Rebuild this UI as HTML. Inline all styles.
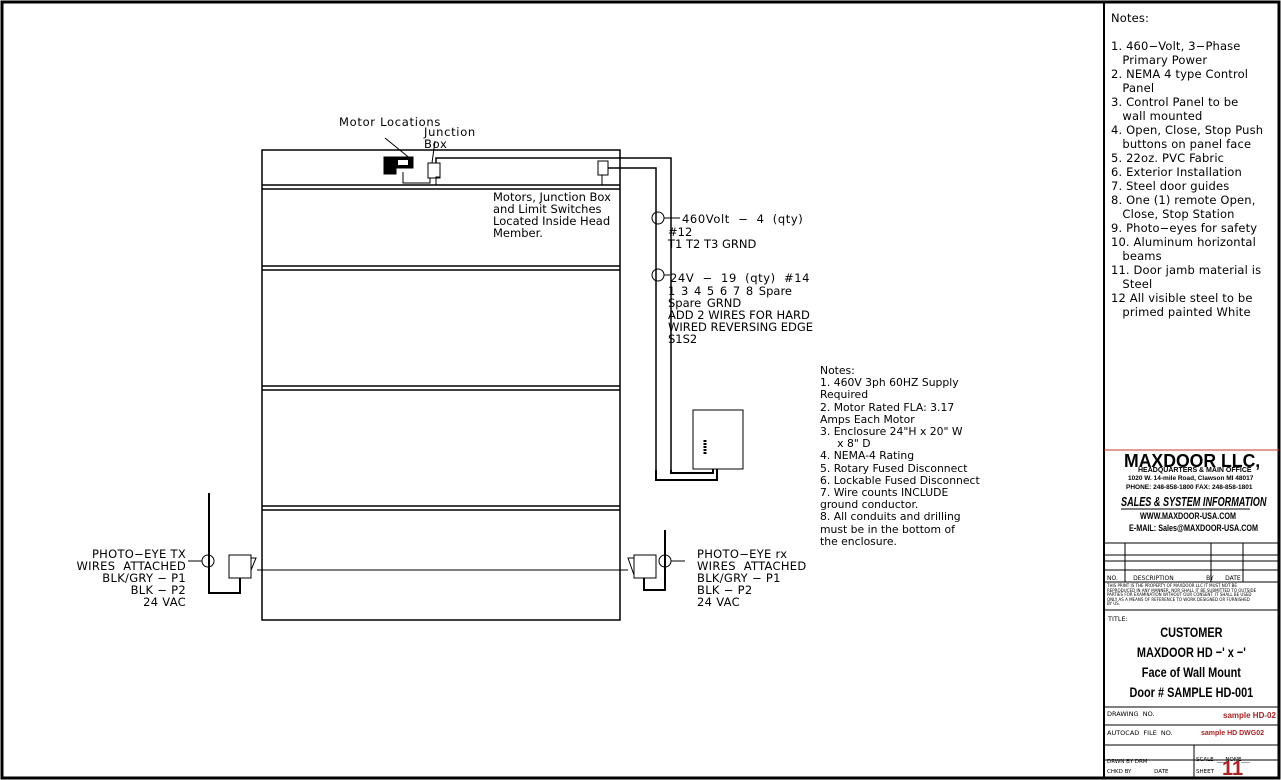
<!DOCTYPE html>
<html><head><style>
body{margin:0;background:#fff;width:1281px;height:780px;overflow:hidden;position:relative;font-family:"DejaVu Sans","Liberation Sans",sans-serif;}
.t{position:absolute;font-size:11.5px;line-height:12px;color:#000;white-space:pre;}
.b{font-family:"Liberation Sans",sans-serif;font-weight:bold;position:absolute;white-space:nowrap;transform-origin:left top;line-height:1;}
</style></head><body>
<svg width="1281" height="780" style="position:absolute;left:0;top:0" fill="none" stroke="#000">
<rect x="2" y="2" width="1277" height="776" stroke-width="3"/>
<line x1="1104" y1="2" x2="1104" y2="778" stroke-width="2"/>
<g stroke-width="1.5">
<rect x="262" y="150" width="358" height="470"/>
<line x1="262" y1="185" x2="620" y2="185"/><line x1="262" y1="189" x2="620" y2="189"/>
<line x1="262" y1="266" x2="620" y2="266"/><line x1="262" y1="270" x2="620" y2="270"/>
<line x1="262" y1="386" x2="620" y2="386"/><line x1="262" y1="390" x2="620" y2="390"/>
<line x1="262" y1="506" x2="620" y2="506"/><line x1="262" y1="510" x2="620" y2="510"/>
</g>
<g stroke-width="1">
<line x1="257" y1="570" x2="628" y2="570"/>
<rect x="428" y="163" width="12" height="15"/>
<rect x="598" y="161" width="10" height="14"/>
<g stroke-width="1.5">
<polyline points="436,163 436,158 671,158 671,470"/>
<polyline points="608,168 656,168 656,480"/>
</g>
<polyline points="440,177 436,177 436,185 602,185 602,175"/>
<polyline points="403,172 403,183 430,183 430,178"/>
<line x1="385" y1="138" x2="412" y2="160"/><line x1="435" y1="141" x2="432" y2="163"/>
<rect x="693" y="410" width="50" height="59"/>
<polyline points="671,470 671,473 713,473 713,469" stroke-width="2"/>
<polyline points="656,470 656,480 717,480 717,469" stroke-width="2"/>
<line x1="705" y1="440" x2="705" y2="455" stroke-width="3" stroke-dasharray="2,1"/>
<circle cx="658" cy="218" r="6"/><line x1="664" y1="218" x2="680" y2="218"/>
<circle cx="658" cy="275" r="6"/><line x1="664" y1="275" x2="670" y2="275"/>
<polyline points="209,493 209,593 240,593 240,578" stroke-width="2"/>
<rect x="229" y="555" width="22" height="23"/>
<polyline points="251,558 256,558 251,570 251,558"/>
<circle cx="208" cy="561" r="6"/><line x1="188" y1="561" x2="202" y2="561"/>
<polyline points="665,530 665,590 644,590 644,578" stroke-width="2"/>
<rect x="634" y="555" width="22" height="23"/>
<polyline points="634,558 628,558 634,575"/>
<circle cx="665" cy="561" r="6"/><line x1="671" y1="561" x2="685" y2="561"/>
<line x1="1104" y1="450" x2="1279" y2="450" stroke="#c33"/>
<line x1="1104" y1="543" x2="1279" y2="543"/>
<line x1="1104" y1="555" x2="1279" y2="555"/>
<line x1="1104" y1="561" x2="1279" y2="561"/>
<line x1="1104" y1="570" x2="1279" y2="570"/>
<line x1="1104" y1="582" x2="1279" y2="582"/>
<line x1="1104" y1="610" x2="1279" y2="610"/>
<line x1="1125" y1="543" x2="1125" y2="582"/>
<line x1="1211" y1="543" x2="1211" y2="582"/>
<line x1="1243" y1="543" x2="1243" y2="582"/>
<line x1="1104" y1="707" x2="1279" y2="707"/>
<line x1="1104" y1="725" x2="1279" y2="725"/>
<line x1="1104" y1="745" x2="1279" y2="745"/>
<line x1="1104" y1="760" x2="1279" y2="760"/>
<line x1="1194" y1="745" x2="1194" y2="778"/>
<line x1="1121" y1="509" x2="1250" y2="509"/>
</g>
<rect x="384" y="157" width="12" height="17" fill="#000"/>
<rect x="393" y="157" width="20" height="11" fill="#000"/>
<rect x="398" y="160" width="10" height="5" fill="#fff" stroke="none"/>
</svg>
<div class="t" style="left:339px;top:116px;letter-spacing:0.7px">Motor Locations</div>
<div class="t" style="left:424px;top:126px;letter-spacing:0.7px">Junction
Box</div>
<div class="t" style="left:493px;top:191px">Motors, Junction Box
and Limit Switches
Located Inside Head
Member.</div>
<div class="t" style="left:682px;top:213px;letter-spacing:0.6px;word-spacing:4px">460Volt − 4 (qty)</div>
<div class="t" style="left:668px;top:226px">#12
T1 T2 T3 GRND</div>
<div class="t" style="left:670px;top:272px;letter-spacing:0.6px;word-spacing:4px">24V − 19 (qty) #14</div>
<div class="t" style="left:668px;top:285px;word-spacing:2px">1 3 4 5 6 7 8 Spare
Spare GRND</div>
<div class="t" style="left:668px;top:309px">ADD 2 WIRES FOR HARD
WIRED REVERSING EDGE
S1S2</div>
<div class="t" style="left:820px;top:365px;line-height:12.2px;font-size:10.8px">Notes:
1. 460V 3ph 60HZ Supply
Required
2. Motor Rated FLA: 3.17
Amps Each Motor
3. Enclosure 24"H x 20" W
     x 8" D
4. NEMA-4 Rating
5. Rotary Fused Disconnect
6. Lockable Fused Disconnect
7. Wire counts INCLUDE
ground conductor.
8. All conduits and drilling
must be in the bottom of
the enclosure.</div>
<div class="t" style="left:40px;top:548px;text-align:right;width:146px;letter-spacing:0.3px">PHOTO−EYE TX
WIRES  ATTACHED
BLK/GRY − P1
BLK − P2
24 VAC</div>
<div class="t" style="left:697px;top:548px;letter-spacing:0.3px">PHOTO−EYE rx
WIRES  ATTACHED
BLK/GRY − P1
BLK − P2
24 VAC</div>
<div class="t" style="left:1111px;top:11px;line-height:14px;letter-spacing:0.15px">Notes:

1. 460−Volt, 3−Phase
   Primary Power
2. NEMA 4 type Control
   Panel
3. Control Panel to be
   wall mounted
4. Open, Close, Stop Push
   buttons on panel face
5. 22oz. PVC Fabric
6. Exterior Installation
7. Steel door guides
8. One (1) remote Open,
   Close, Stop Station
9. Photo−eyes for safety
10. Aluminum horizontal
   beams
11. Door jamb material is
   Steel
12 All visible steel to be
   primed painted White</div>
<div class="b" style="left:1124px;top:452px;font-size:18px;transform:scaleX(0.98)">MAXDOOR LLC,</div>
<div class="b" style="left:1138px;top:467px;font-size:7px">HEADQUARTERS &amp; MAIN OFFICE</div>
<div class="b" style="left:1128px;top:476px;font-size:6.5px">1020 W. 14-mile Road, Clawson MI 48017</div>
<div class="b" style="left:1126px;top:485px;font-size:6.5px">PHONE: 248-858-1800 FAX: 248-858-1801</div>
<div class="b" style="left:1121px;top:495px;font-size:13px;font-style:italic;transform:scaleX(0.7)">SALES &amp; SYSTEM INFORMATION</div>
<div class="b" style="left:1140px;top:512px;font-size:9px;transform:scaleX(0.8)">WWW.MAXDOOR-USA.COM</div>
<div class="b" style="left:1129px;top:524px;font-size:9px;transform:scaleX(0.8)">E-MAIL: Sales@MAXDOOR-USA.COM</div>
<div class="t" style="left:1107px;top:575px;font-size:6px;line-height:7px">NO.        DESCRIPTION                 BY      DATE</div>
<div class="t" style="left:1107px;top:584px;font-size:4px;line-height:4.5px">THIS PRINT IS THE PROPERTY OF MAXDOOR LLC IT MUST NOT BE
REPRODUCED IN ANY MANNER, NOR SHALL IT BE SUBMITTED TO OUTSIDE
PARTIES FOR EXAMINATION WITHOUT OUR CONSENT. IT SHALL BE USED
ONLY AS A MEANS OF REFERENCE TO WORK DESIGNED OR FURNISHED
BY US.</div>
<div class="t" style="left:1108px;top:613px;font-size:6.5px">TITLE:</div>
<div class="b" style="left:1104px;width:175px;text-align:center;top:622px;font-size:14px;line-height:20px;white-space:pre;"><span style="display:inline-block;transform:scaleX(0.78)">CUSTOMER<br>MAXDOOR HD −' x −'<br>Face of Wall Mount<br>Door # SAMPLE HD-001</span></div>
<div class="t" style="left:1107px;top:708px;font-size:6.5px">DRAWING  NO.</div>
<div class="b" style="left:1223px;top:712px;font-size:8px;color:#a22">sample HD-02</div>
<div class="t" style="left:1107px;top:727px;font-size:6.5px">AUTOCAD  FILE  NO.</div>
<div class="b" style="left:1201px;top:730px;font-size:7px;color:#a22">sample HD DWG02</div>
<div class="t" style="left:1107px;top:757px;font-size:5.5px;line-height:10px">DRWN BY DRM
CHKD BY             DATE</div>
<div class="t" style="left:1196px;top:754px;font-size:5.5px;line-height:12px">SCALE  ___NONE___
SHEET</div>
<div class="b" style="left:1222px;top:759px;font-size:20px;color:#a22;line-height:20px">11</div>
</body></html>
